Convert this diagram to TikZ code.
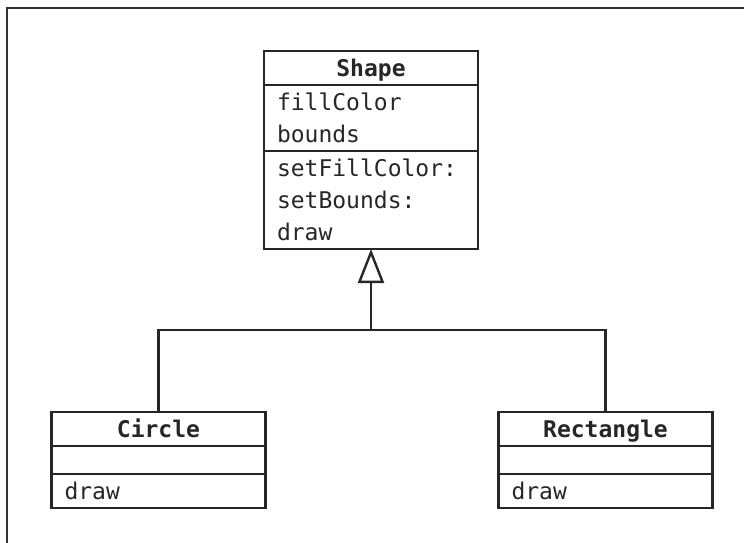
\documentclass[tikz,border=0pt]{standalone}
\usepackage{fontspec}
\setmonofont{DejaVu Sans Mono}
\usetikzlibrary{positioning,arrows.meta}

\begin{document}
\begin{tikzpicture}[x=1pt,y=-1pt,
  umlbox/.style={draw, black!85, text=black!85, line width=2.4pt, outer sep=0pt, inner xsep=13pt, inner ysep=0pt, text width=188pt},
  umltitle/.style={umlbox, align=center, minimum height=34pt, text height=20pt, text depth=3pt, font={\ttfamily\bfseries\fontsize{23}{32}\selectfont}},
  umlpart/.style={umlbox, align=left, font={\ttfamily\fontsize{23}{32}\selectfont}},
  isa/.style={-{Triangle[open, width=26pt, length=34pt]}, black!85, line width=2.4pt}]
  \useasboundingbox (0,0) rectangle (744,543);
  \draw[line width=2.6pt, black!80] (744,8) -- (7,8) -- (7,543);

  \node[umltitle]                                          (shape)       at (371,68) {Shape};
  \node[umlpart, minimum height=66pt, below=0pt of shape]      (shape attr)  {fillColor\\bounds};
  \node[umlpart, minimum height=98pt, below=0pt of shape attr] (shape ops)   {setFillColor:\\setBounds:\\draw};

  \node[umltitle]                                          (circle)      at (158.5,429) {Circle};
  \node[umlpart, minimum height=28pt, below=0pt of circle]      (circle attr) {};
  \node[umlpart, minimum height=34pt, below=0pt of circle attr] (circle ops)  {draw};

  \node[umltitle]                                          (rect)        at (605.5,429) {Rectangle};
  \node[umlpart, minimum height=28pt, below=0pt of rect]        (rect attr)   {};
  \node[umlpart, minimum height=34pt, below=0pt of rect attr]   (rect ops)    {draw};

  \coordinate (join) at (371,330);
  \draw[black!85, line width=2.4pt] (circle.north) |- (join) -| (rect.north);
  \draw[isa] (join) -- (shape ops.south);
\end{tikzpicture}
\end{document}
